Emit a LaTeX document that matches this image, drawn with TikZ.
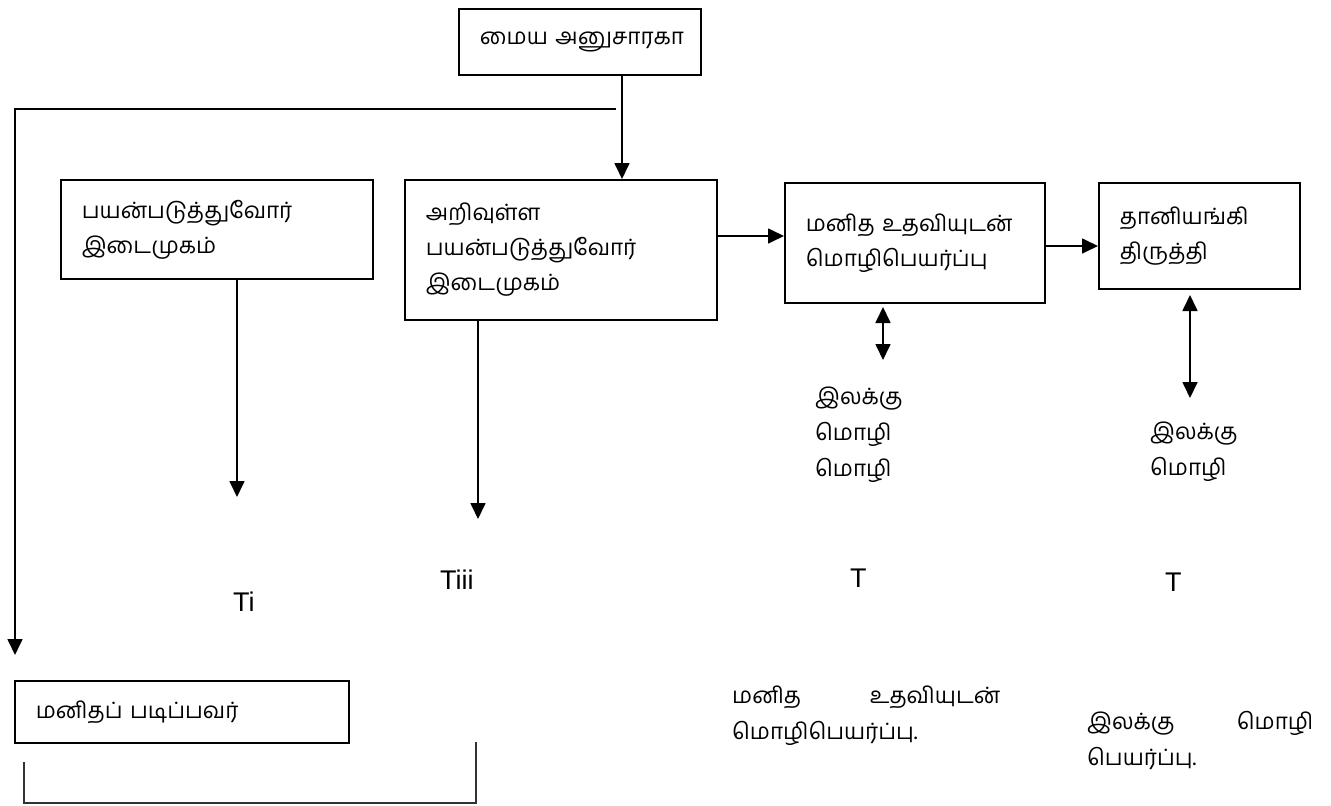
\documentclass[tikz,border=0pt]{standalone}
\usepackage{fontspec}
\setmainfont{Liberation Sans}
\newfontfamily\tamil[Script=Tamil]{Hind Madurai}
\usetikzlibrary{arrows.meta}
\begin{document}
\begin{tikzpicture}[x=1pt,y=-1pt,
  tfont/.style={font=\tamil\fontsize{22.5}{35}\selectfont},
  box/.style={draw,line width=1.7pt,inner xsep=21pt,inner ysep=0pt,align=left,
              anchor=north west,tfont},
  tlabel/.style={anchor=west,inner sep=0pt,align=left,
                 font=\tamil\fontsize{22.5}{36}\selectfont},
  tag/.style={anchor=west,inner sep=0pt,font=\fontsize{27}{30}\selectfont},
  conn/.style={line width=1.7pt},
  arr/.style={conn,-{Triangle[length=16pt,width=15pt]}},
  darr/.style={conn,{Triangle[length=16pt,width=15pt]}-{Triangle[length=16pt,width=15pt]}},
  thin/.style={line width=1.3pt,black!80}]
\useasboundingbox (0,0) rectangle (1331,806);

% boxes
\node[box,text width=200pt,minimum height=66pt] (top) at (458,8) {மைய~அனுசாரகா};
\node[box,text width=270pt,minimum height=99pt] (ui) at (60,179) {பயன்படுத்துவோர்\\இடைமுகம்};
\node[box,text width=270pt,minimum height=140pt] (iui) at (404,179) {அறிவுள்ள\\பயன்படுத்துவோர்\\இடைமுகம்};
\node[box,text width=218pt,minimum height=120pt] (hat) at (784,182) {மனித~உதவியுடன்\\மொழிபெயர்ப்பு\\[14pt]};
\node[box,text width=159pt,minimum height=106pt] (ape) at (1098,182) {தானியங்கி\\திருத்தி};
\node[box,text width=292pt,minimum height=62pt] (reader) at (14,680) {மனிதப்~படிப்பவர்};

% free labels
\node[tlabel] (tl1) at (815,434.5) {இலக்கு\\மொழி\\மொழி};
\node[tlabel] (tl2) at (1150,452) {இலக்கு\\மொழி};
\node[tlabel,text width=268pt] (d1) at (732,716) {மனித\hfill உதவியுடன்\\மொழிபெயர்ப்பு.};
\node[tlabel,text width=226pt] (d2) at (1087,740) {இலக்கு\hfill மொழி\\பெயர்ப்பு.};
\node[tag] (ti) at (233,602) {Ti};
\node[tag] (tiii) at (440,580) {Tiii};
\node[tag] (t1) at (850,578) {T};
\node[tag] (t2) at (1165,582) {T};

% helper points
\coordinate (xa) at (622,0);
\coordinate (h1) at (616,109);
\coordinate (h2) at (15,109);
\coordinate (h3) at (15,655);
\coordinate (e1) at (237,497);
\coordinate (e2) at (478,519);
\coordinate (ya) at (0,236);
\coordinate (yb) at (0,246);
\coordinate (xd1) at (883,0);
\coordinate (xd2) at (1190,0);
\coordinate (b1) at (24,762);
\coordinate (b2) at (24,803);
\coordinate (b3) at (476,803);
\coordinate (b4) at (476,742);

% connectors
\draw[arr] (top.south -| xa) -- (iui.north -| xa);
\draw[arr] (h1) -- (h2) -- (h3);
\draw[arr] (ui.south -| e1) -- (e1);
\draw[arr] (iui.south -| e2) -- (e2);
\draw[arr] (iui.east |- ya) -- (hat.west |- ya);
\draw[arr] (hat.east |- yb) -- (ape.west |- yb);
\draw[darr] (xd1 |- 0,307) -- (xd1 |- 0,360);
\draw[darr] (xd2 |- 0,295) -- (xd2 |- 0,398);
\draw[thin] (b1) -- (b2) -- (b3) -- (b4);
\end{tikzpicture}
\end{document}
